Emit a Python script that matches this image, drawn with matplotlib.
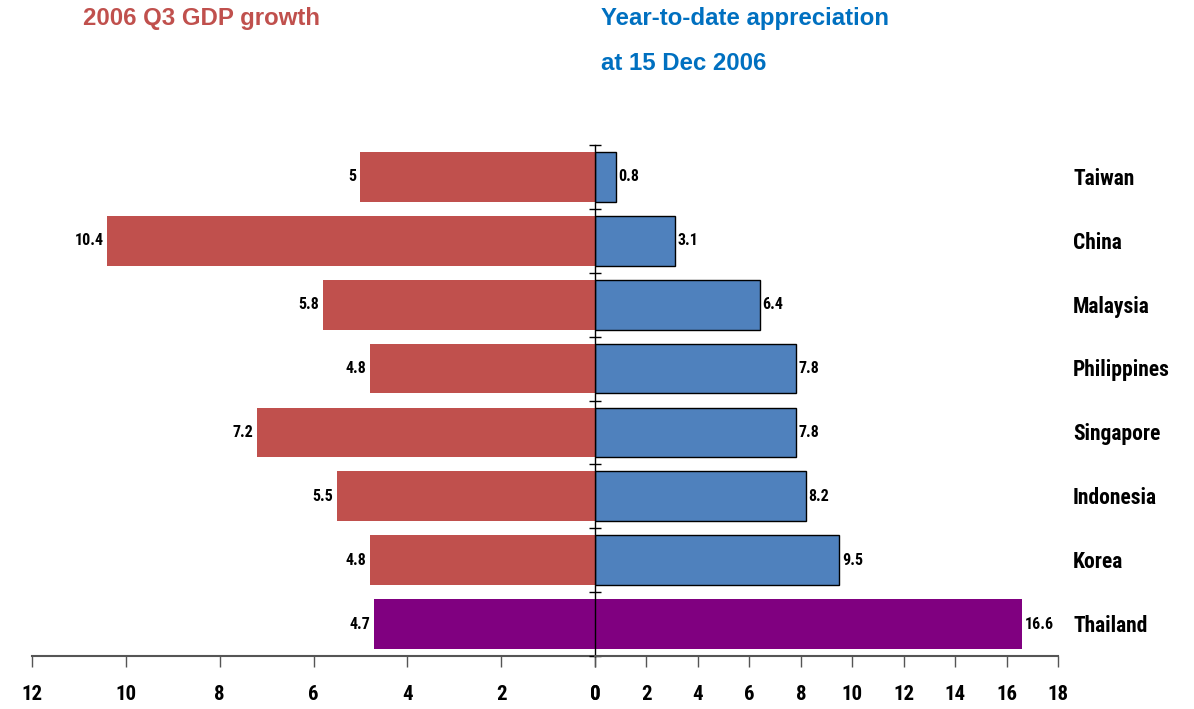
import matplotlib
matplotlib.use("Agg")
import matplotlib.pyplot as plt
import matplotlib.transforms as mtransforms
from matplotlib import font_manager as fm

countries = ["Taiwan", "China", "Malaysia", "Philippines", "Singapore", "Indonesia", "Korea", "Thailand"]
gdp_growth = [5, 10.4, 5.8, 4.8, 7.2, 5.5, 4.8, 4.7]
appreciation = [0.8, 3.1, 6.4, 7.8, 7.8, 8.2, 9.5, 16.6]
left_ticks = [12, 10, 8, 6, 4, 2, 0]
right_ticks = [0, 2, 4, 6, 8, 10, 12, 14, 16, 18]

names = {f.name for f in fm.fontManager.ttflist}
cond = "Liberation Sans"
for cand in ["Roboto Condensed", "PT Sans Narrow", "Archivo Narrow", "Liberation Sans Narrow"]:
    if cand in names:
        cond = cand
        break
wide = "Liberation Sans"

RED = "#C0504D"
BLUE = "#4F81BD"
PURPLE = "#800080"

W, H = 1194, 709
fig = plt.figure(figsize=(W / 100, H / 100), dpi=100)

y0 = 656
top = 145
bottom_frac = (H - y0) / H
h_frac = (y0 - top) / H
axL = fig.add_axes([32 / W, bottom_frac, (595 - 32) / W, h_frac])
axR = fig.add_axes([595 / W, bottom_frac, (1058 - 595) / W, h_frac])

n = len(countries)
ypos = list(range(n))
bar_h = 0.78

lcolors = [PURPLE if c == "Thailand" else RED for c in countries]
rcolors = [PURPLE if c == "Thailand" else BLUE for c in countries]
redges = ["none" if c == "Thailand" else "black" for c in countries]

axL.barh(ypos, gdp_growth, height=bar_h, color=lcolors, edgecolor="none")
for y, v, c, e in zip(ypos, appreciation, rcolors, redges):
    axR.barh(y, v, height=bar_h, color=c, edgecolor=e, linewidth=1.0 if e != "none" else 0)

for ax in (axL, axR):
    ax.set_ylim(n - 0.5, -0.5)
    ax.set_yticks([])
    for s in ("top", "right", "left"):
        ax.spines[s].set_visible(False)
    ax.spines["bottom"].set_color("#555555")
    ax.spines["bottom"].set_linewidth(1.5)
    ax.tick_params(axis="x", direction="out", length=8, width=1, color="#555555", pad=13)

tick_font = dict(fontfamily=cond, fontweight="bold", fontsize=15)
axL.set_xlim(12, 0)
axL.set_xticks(left_ticks)
axL.set_xticklabels([str(t) for t in left_ticks], **tick_font)
axR.set_xlim(0, 18)
axR.set_xticks(right_ticks)
axR.set_xticklabels([str(t) for t in right_ticks], **tick_font)

# central vertical axis with small boundary ticks
axR.spines["left"].set_visible(True)
axR.spines["left"].set_color("black")
axR.spines["left"].set_linewidth(1.0)
axR.set_yticks([i - 0.5 for i in range(n + 1)])
axR.set_yticklabels([])
axR.tick_params(axis="y", direction="inout", length=8, width=1, color="black")

for y, v in zip(ypos, gdp_growth):
    axL.text(v + 0.08, y, f"{v:g}", ha="right", va="center", fontfamily=cond,
             fontweight="bold", fontsize=11.5)
for y, v in zip(ypos, appreciation):
    axR.text(v + 0.1, y, f"{v:g}", ha="left", va="center", fontfamily=cond,
             fontweight="bold", fontsize=11.5)

trans = mtransforms.blended_transform_factory(fig.transFigure, axR.transData)
for y, c in zip(ypos, countries):
    fig.text(1073 / W, y + 0.03, c, transform=trans, ha="left", va="center",
             fontfamily=cond, fontweight="bold", fontsize=15.5)

title_font = dict(fontfamily=wide, fontweight="bold", fontsize=17.3, ha="left", va="center")
fig.text(83 / W, 1 - 19 / H, "2006 Q3 GDP growth", color=RED, **title_font)
fig.text(601 / W, 1 - 19 / H, "Year-to-date appreciation", color="#0070C0", **title_font)
fig.text(601 / W, 1 - 64 / H, "at 15 Dec 2006", color="#0070C0", **title_font)

fig.savefig("out.png", dpi=100)
